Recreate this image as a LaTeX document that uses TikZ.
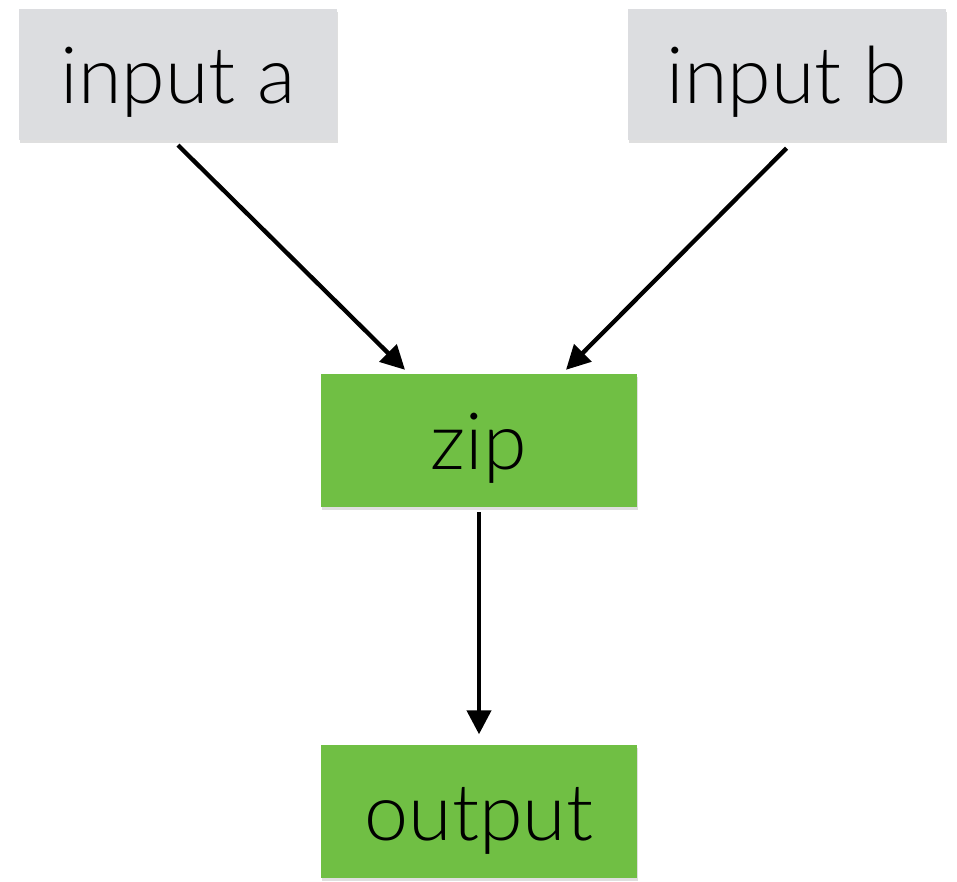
\documentclass[tikz,border=0pt]{standalone}
\usepackage{fontspec}
\setmainfont{Lato Light}
\usetikzlibrary{arrows.meta,shadows}
\definecolor{boxgray}{HTML}{DCDDE0}
\definecolor{boxgreen}{HTML}{70BF44}
\tikzset{
  stage/.style={rectangle, inner sep=0pt, font=\fontsize{79}{86}\selectfont,
    text height=71pt, text depth=13pt,
    drop shadow={opacity=0.25, shadow xshift=1pt, shadow yshift=-3pt}},
  src/.style={stage, fill=boxgray, minimum width=318pt, minimum height=131pt},
  op/.style={stage, fill=boxgreen, minimum width=316pt, minimum height=133pt},
  arr/.style={line width=4.3pt, -{Triangle[length=24pt, width=24pt]}}
}
\begin{document}
\begin{tikzpicture}[x=1pt, y=-1pt]
	  \useasboundingbox (0,0) rectangle (957,882);

	  \node [src] (ina) at (178,74.5) {input a};
	  \node [src] (inb) at (786.5,74.5) {input b};
	  \node [op] (zip) at (479,440.5) {zip};
	  \node [op] (out) at (479,811) {output};

	  \draw [arr] ([yshift=-5pt]ina.south) -- ([xshift=-74pt, yshift=4pt]zip.north);
	  \draw [arr] ([yshift=-8pt]inb.south) -- ([xshift=87pt, yshift=4pt]zip.north);
	  \draw [arr] ([yshift=-5pt]zip.south) -- ([yshift=10pt]out.north);
	\end{tikzpicture}
\end{document}
